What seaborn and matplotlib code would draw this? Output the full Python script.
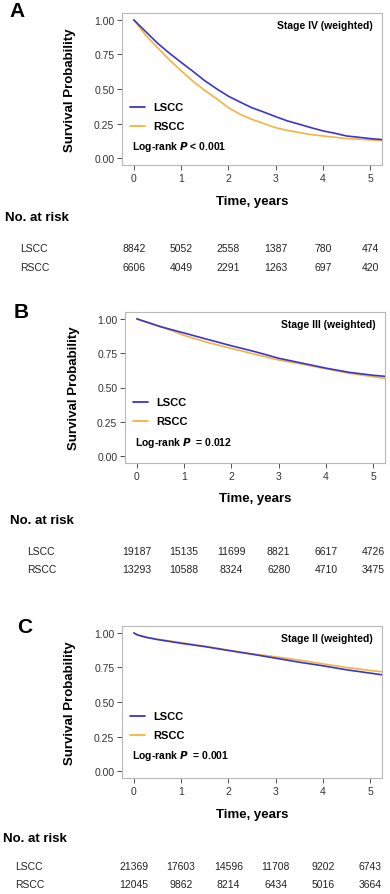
import matplotlib
matplotlib.use("Agg")
import matplotlib.pyplot as plt
import matplotlib.transforms as mtransforms
import seaborn as sns
import pandas as pd

times = [0, 0.25, 0.5, 0.75, 1, 1.25, 1.5, 1.75, 2, 2.25, 2.5, 2.75,
         3, 3.25, 3.5, 3.75, 4, 4.25, 4.5, 4.75, 5, 5.25]

# Stage IV
a_lscc = [1.0, 0.916, 0.832, 0.760, 0.693, 0.628, 0.560, 0.502, 0.448, 0.405, 0.364, 0.333,
          0.300, 0.269, 0.245, 0.220, 0.197, 0.180, 0.160, 0.151, 0.141, 0.134]
a_rscc = [1.0, 0.890, 0.800, 0.712, 0.633, 0.556, 0.490, 0.430, 0.365, 0.317, 0.280, 0.250,
          0.220, 0.200, 0.185, 0.170, 0.160, 0.151, 0.141, 0.137, 0.132, 0.127]

# Stage III
times_b = [0, 0.5, 1, 1.5, 2, 2.5, 3, 3.5, 4, 4.5, 5, 5.25]
b_lscc = [1.0, 0.943, 0.897, 0.850, 0.804, 0.761, 0.713, 0.677, 0.641, 0.610, 0.589, 0.581]
b_rscc = [1.0, 0.945, 0.880, 0.828, 0.785, 0.742, 0.700, 0.670, 0.636, 0.603, 0.579, 0.565]

# Stage II
times_c = [0, 0.08, 0.25, 0.5, 1, 1.5, 2, 2.5, 3, 3.5, 4, 4.5, 5, 5.25]
c_lscc = [1.0, 0.985, 0.969, 0.952, 0.925, 0.901, 0.873, 0.846, 0.817, 0.788, 0.762, 0.733, 0.709, 0.697]
c_rscc = [1.0, 0.985, 0.969, 0.954, 0.930, 0.904, 0.875, 0.849, 0.827, 0.803, 0.776, 0.750, 0.728, 0.719]

risk_times = [0, 1, 2, 3, 4, 5]
risk_a = {"LSCC": [8842, 5052, 2558, 1387, 780, 474],
          "RSCC": [6606, 4049, 2291, 1263, 697, 420]}
risk_b = {"LSCC": [19187, 15135, 11699, 8821, 6617, 4726],
          "RSCC": [13293, 10588, 8324, 6280, 4710, 3475]}
risk_c = {"LSCC": [21369, 17603, 14596, 11708, 9202, 6743],
          "RSCC": [12045, 9862, 8214, 6434, 5016, 3664]}

colors = {"LSCC": "#3B35CC", "RSCC": "#F2B440"}

sns.set_theme(style="white")
plt.rcParams["font.family"] = ["Liberation Sans", "DejaVu Sans"]
plt.rcParams["text.color"] = "black"

W, H = 390, 895
fig = plt.figure(figsize=(W / 100, H / 100), dpi=100)


def fx(px):
    return px / W


def fy(py):
    return 1 - py / H


panels = [
    # letter, title, p text, times, lscc, rscc, risk, axes box (l, t, r, b) px, letter pos, risk layout
    ("A", "Stage IV (weighted)", "< 0.001", times, a_lscc, a_rscc, risk_a,
     (122, 14, 382, 166), (9, 2), (5, 218, 20, 249, 268), (0.38, 0.257, 0.125)),
    ("B", "Stage III (weighted)", " = 0.012", times_b, b_lscc, b_rscc, risk_b,
     (125, 313, 385, 464), (14, 303), (10, 521, 27, 552, 570), (0.404, 0.278, 0.139)),
    ("C", "Stage II (weighted)", " = 0.001", times_c, c_lscc, c_rscc, risk_c,
     (122, 627, 382, 779), (17, 618), (3, 839, 15, 867, 885), (0.408, 0.283, 0.151)),
]

for letter, title, ptxt, t, ls, rs, risk, box, lpos, rlay, legpos in panels:
    l, tp, r, b = box
    ax = fig.add_axes([fx(l), fy(b), fx(r - l), (b - tp) / H])
    df = pd.DataFrame({
        "time": list(t) + list(t),
        "surv": list(ls) + list(rs),
        "group": ["LSCC"] * len(t) + ["RSCC"] * len(t),
    })
    # draw RSCC first so LSCC sits on top like the reference
    sns.lineplot(data=df, x="time", y="surv", hue="group", hue_order=["RSCC", "LSCC"],
                 palette=colors, linewidth=1.2, ax=ax, legend=False, sort=True)
    ax.set_xlim(-0.25, 5.25)
    ax.set_ylim(-0.05, 1.05)
    ax.set_xticks([0, 1, 2, 3, 4, 5])
    ax.set_yticks([0, 0.25, 0.5, 0.75, 1.0])
    ax.set_yticklabels(["0.00", "0.25", "0.50", "0.75", "1.00"])
    ax.tick_params(axis="both", labelsize=7.5, colors="#333333", length=3.5, width=0.6,
                   direction="out", pad=2, bottom=True, left=True)
    for sp in ax.spines.values():
        sp.set_color("#B8B8B8")
        sp.set_linewidth(0.8)
    ax.set_xlabel("Time, years", fontsize=9.5, fontweight="bold", color="black")
    ax.set_ylabel("Survival Probability", fontsize=9.5, fontweight="bold", color="black")
    ax.xaxis.set_label_coords(0.5, -0.195)
    ax.yaxis.set_label_coords(-0.175, 0.5)

    ax.text(0.965, 0.92, title, transform=ax.transAxes, ha="right", va="center",
            fontsize=7.5, fontweight="bold")

    # legend drawn as short segments + labels
    for (name, yy) in [("LSCC", legpos[0]), ("RSCC", legpos[1])]:
        ax.plot([0.03, 0.088], [yy, yy], transform=ax.transAxes, color=colors[name], lw=1.3)
        ax.text(0.12, yy, name, transform=ax.transAxes, ha="left", va="center",
                fontsize=8, fontweight="bold")
    ax.text(0.04, legpos[2], r"Log-rank $\bfit{P}$ " + ptxt, transform=ax.transAxes,
            ha="left", va="center", fontsize=7.5, fontweight="bold")

    fig.text(fx(lpos[0]), fy(lpos[1]), letter, ha="left", va="top",
             fontsize=15, fontweight="bold")

    # number-at-risk table
    nx, ny, rx, ry1, ry2 = rlay
    fig.text(fx(nx), fy(ny), "No. at risk", ha="left", va="center",
             fontsize=9.5, fontweight="bold")
    blend = mtransforms.blended_transform_factory(ax.transData, fig.transFigure)
    for name, yy in [("LSCC", ry1), ("RSCC", ry2)]:
        fig.text(fx(rx), fy(yy), name, ha="left", va="center", fontsize=7.5, color="#222222")
        for tt, n in zip(risk_times, risk[name]):
            fig.text(tt, fy(yy), str(n), transform=blend, ha="center", va="center",
                     fontsize=7.5, color="#222222")

fig.savefig("out.png", dpi=100)
